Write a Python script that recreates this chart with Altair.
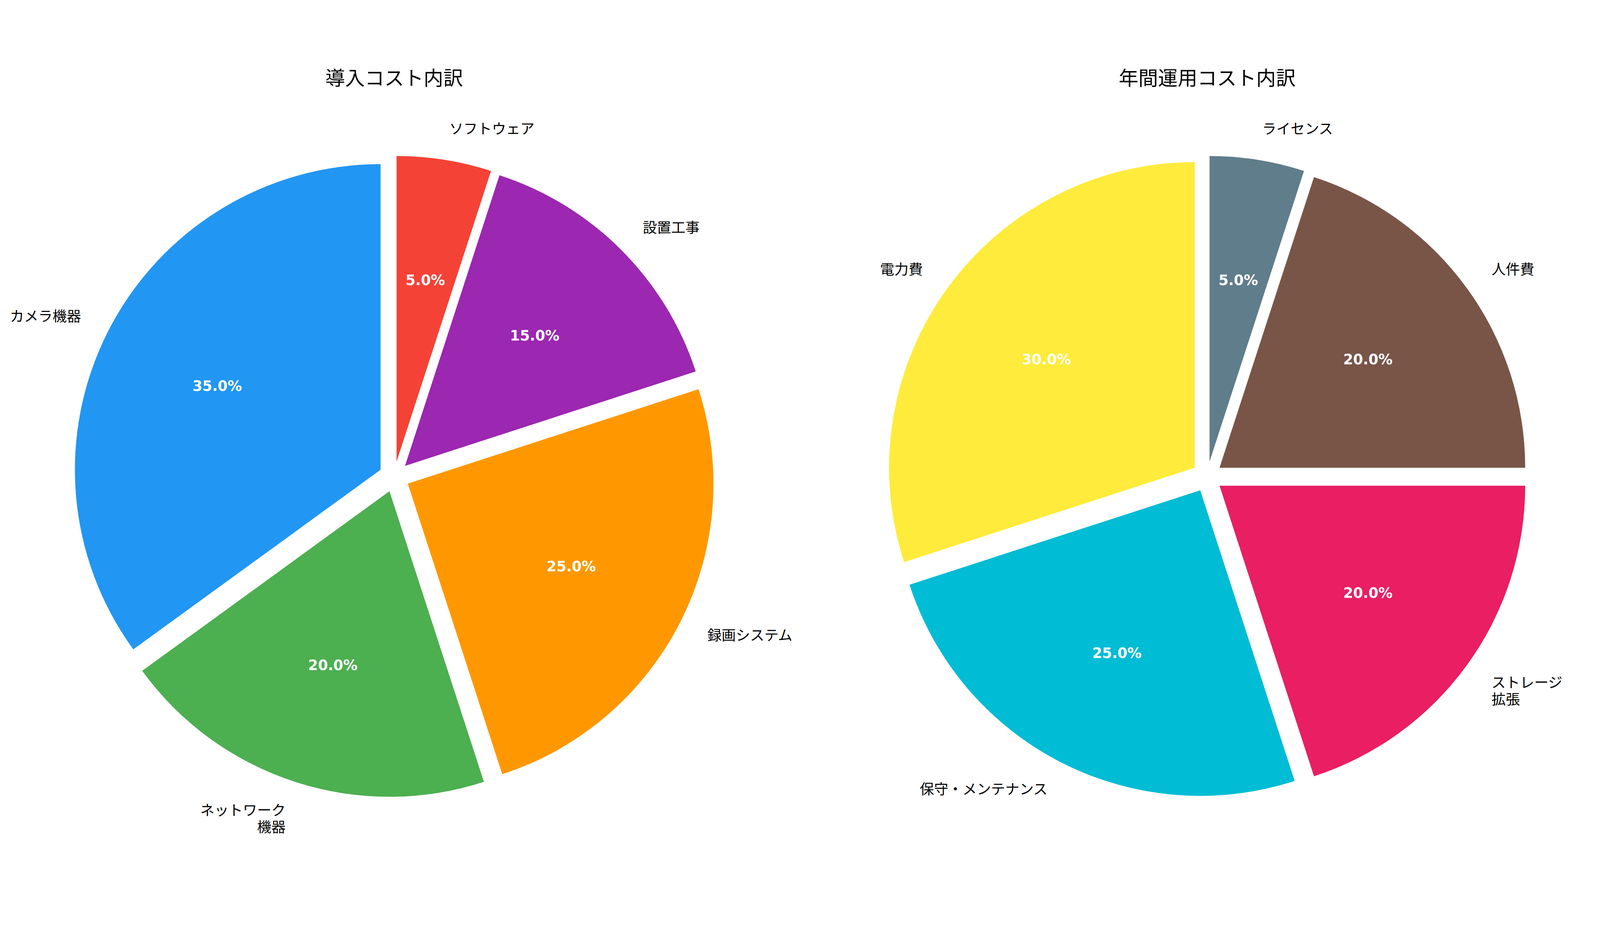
import math
import altair as alt
import pandas as pd

# ---------------- data ----------------
left_title = "導入コスト内訳"
left_labels = ["カメラ機器", "ネットワーク\n機器", "録画システム", "設置工事", "ソフトウェア"]
left_values = [35, 20, 25, 15, 5]
left_colors = ["#2196F3", "#4CAF50", "#FF9800", "#9C27B0", "#F44336"]

right_title = "年間運用コスト内訳"
right_labels = ["電力費", "保守・メンテナンス", "ストレージ\n拡張", "人件費", "ライセンス"]
right_values = [30, 25, 20, 20, 5]
right_colors = ["#FFEB3B", "#00BCD4", "#E91E63", "#795548", "#607D8B"]

# ---------------- layout (pixels) ----------------
PLOT_W = 4703
PLOT_H = 2368
R = 902                  # pie radius in px (one data unit)
CX = [1154, 3553]        # pie centres, px from the left of the plot
CY = 1217                # pie centre, px from the top of the plot
TITLE_Y = 44             # title centre, px from the top
EXPLODE = 0.05
LABEL_D = 1.1
PCT_D = 0.6
JP_FONT = "Noto Sans CJK JP"

cx0 = CX[0] / R
cx1 = CX[1] / R
x_scale = alt.Scale(domain=[0, PLOT_W / R])
y_scale = alt.Scale(domain=[-(PLOT_H - CY) / R, CY / R])

slices = pd.DataFrame({
    "pie": [0] * len(left_labels) + [1] * len(right_labels),
    "idx": list(range(len(left_labels))) + list(range(len(right_labels))),
    "label": left_labels + right_labels,
    "value": left_values + right_values,
})
titles = pd.DataFrame({"pie": [0, 1], "title": [left_title, right_title]})

base = (
    alt.Chart(slices)
    .transform_joinaggregate(total="sum(value)", groupby=["pie"])
    .transform_window(cum="sum(value)", groupby=["pie"],
                      sort=[alt.SortField("idx", order="ascending")])
    .transform_calculate(
        cx=f"datum.pie == 0 ? {cx0} : {cx1}",
        mid="PI/2 + 2*PI*(datum.cum - datum.value/2)/datum.total",
        t0="1 - datum.cum/datum.total",
        t1="1 - (datum.cum - datum.value)/datum.total",
    )
    .transform_calculate(
        ox=f"datum.cx + {EXPLODE}*cos(datum.mid)",
        oy=f"{EXPLODE}*sin(datum.mid)",
        lx=f"datum.cx + {EXPLODE + LABEL_D}*cos(datum.mid)",
        ly=f"{EXPLODE + LABEL_D}*sin(datum.mid)",
        px=f"datum.cx + {EXPLODE + PCT_D}*cos(datum.mid)",
        py=f"{EXPLODE + PCT_D}*sin(datum.mid)",
        pct="format(datum.value/datum.total*100, '.1f') + '%'",
    )
)

arcs = base.mark_arc(radius=R).encode(
    x=alt.X("ox:Q", scale=x_scale, axis=None),
    y=alt.Y("oy:Q", scale=y_scale, axis=None),
    theta=alt.Theta("t0:Q", scale=alt.Scale(domain=[0, 1], range=[0, 2 * math.pi])),
    theta2=alt.Theta2("t1:Q"),
    color=alt.Color(
        "label:N",
        scale=alt.Scale(domain=left_labels + right_labels, range=left_colors + right_colors),
        legend=None,
    ),
)

lbl_left = base.transform_filter("cos(datum.mid) < 0").mark_text(
    align="right", baseline="middle", font=JP_FONT, fontSize=42,
    lineBreak="\n", lineHeight=50, color="black",
).encode(
    x=alt.X("lx:Q", scale=x_scale, axis=None),
    y=alt.Y("ly:Q", scale=y_scale, axis=None),
    text="label:N",
)

lbl_right = base.transform_filter("cos(datum.mid) >= 0").mark_text(
    align="left", baseline="middle", font=JP_FONT, fontSize=42,
    lineBreak="\n", lineHeight=50, color="black",
).encode(
    x=alt.X("lx:Q", scale=x_scale, axis=None),
    y=alt.Y("ly:Q", scale=y_scale, axis=None),
    text="label:N",
)

pct = base.mark_text(
    align="center", baseline="middle", font="DejaVu Sans", fontSize=42,
    fontWeight="bold", color="white",
).encode(
    x=alt.X("px:Q", scale=x_scale, axis=None),
    y=alt.Y("py:Q", scale=y_scale, axis=None),
    text="pct:N",
)

title_marks = (
    alt.Chart(titles)
    .transform_calculate(
        tx=f"datum.pie == 0 ? {cx0} : {cx1}",
        ty=f"{(CY - TITLE_Y) / R}",
    )
    .mark_text(align="center", baseline="middle", font=JP_FONT, fontSize=58, color="black")
    .encode(
        x=alt.X("tx:Q", scale=x_scale, axis=None),
        y=alt.Y("ty:Q", scale=y_scale, axis=None),
        text="title:N",
    )
)

chart = (
    alt.layer(arcs, lbl_left, lbl_right, pct, title_marks)
    .properties(
        width=PLOT_W,
        height=PLOT_H,
        padding=0,
        autosize=alt.AutoSizeParams(type="none"),
    )
    .configure_view(stroke=None)
)

chart.save("out.html", embed_options={"renderer": "svg", "actions": False})
